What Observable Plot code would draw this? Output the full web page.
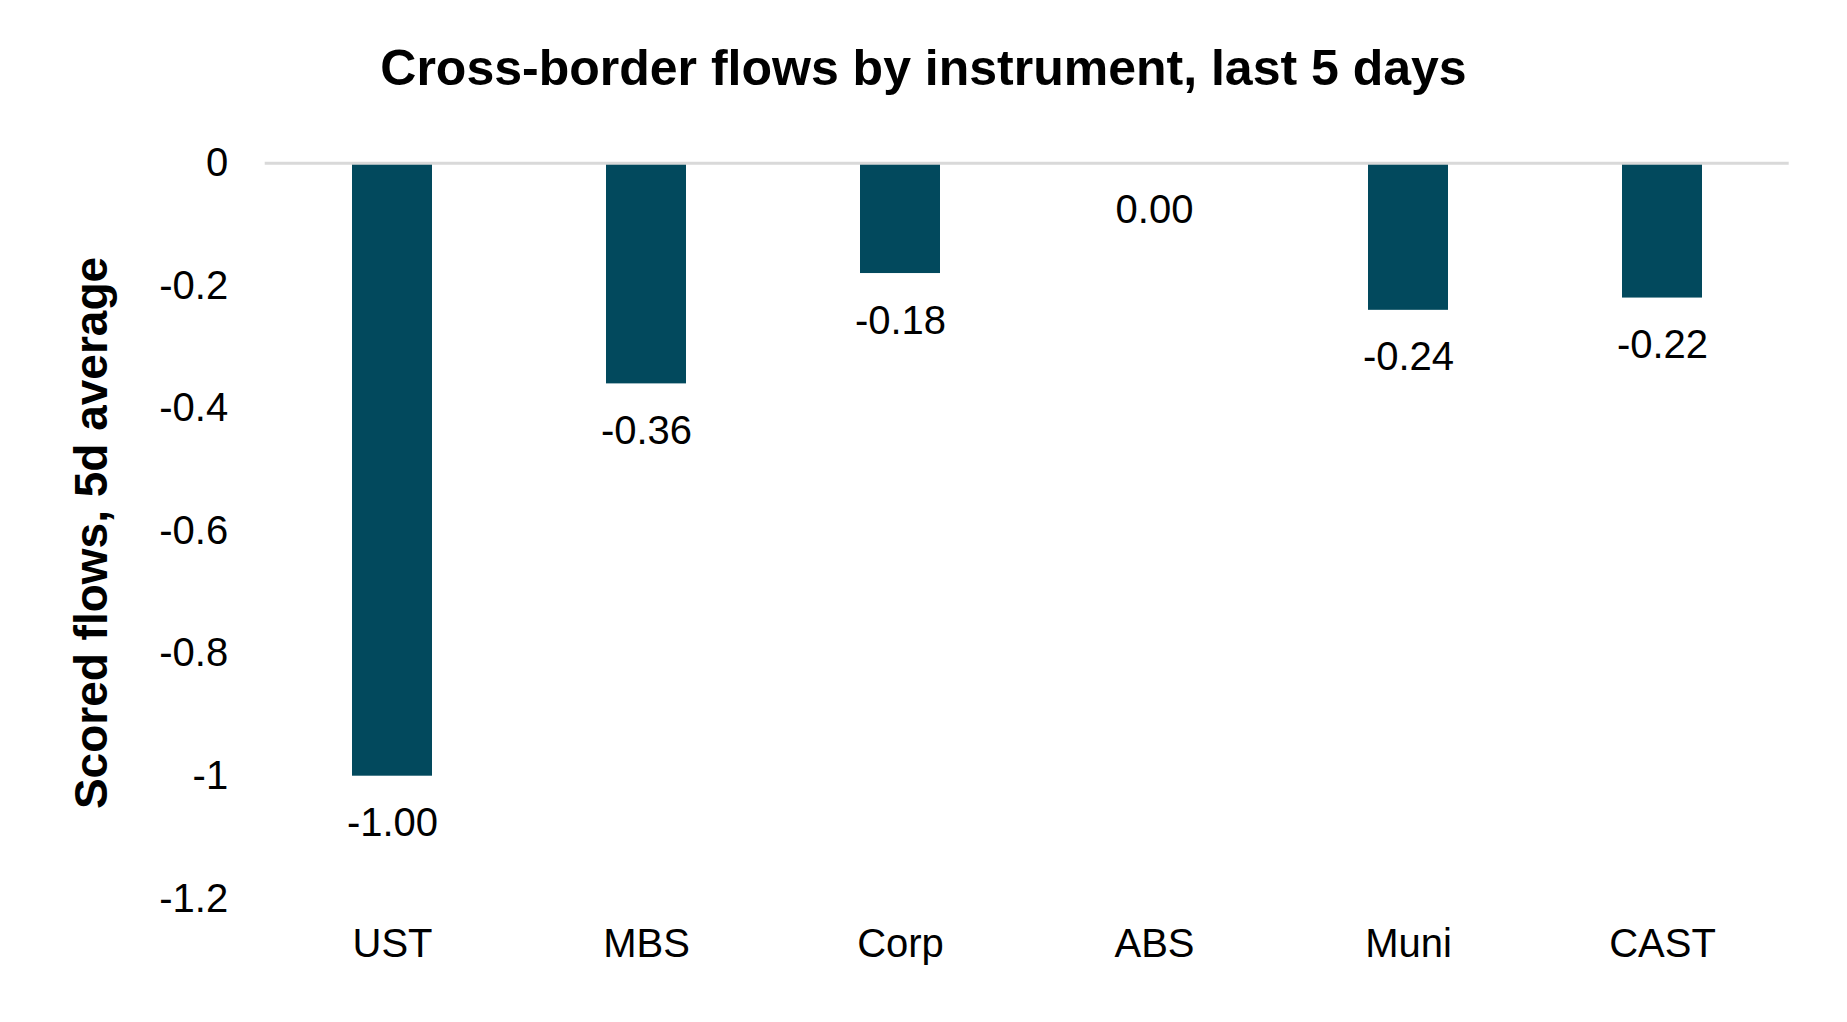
<!DOCTYPE html>
<html>
<head>
<meta charset="utf-8">
<script src="https://cdn.jsdelivr.net/npm/d3@7"></script>
<script src="https://cdn.jsdelivr.net/npm/@observablehq/plot@0.6"></script>
<style>
  html, body { margin: 0; padding: 0; background: #fff; overflow: hidden; }
  #title {
    width: 1847px; height: 67px; padding-top: 43px;
    font-family: "Liberation Sans", Arial, sans-serif;
    font-weight: bold; font-size: 50px; line-height: 50px;
    text-align: center; color: #000; box-sizing: content-box;
  }
  #chart svg { display: block; }
</style>
</head>
<body>
<div id="title">Cross-border flows by instrument, last 5 days</div>
<div id="chart"></div>
<script>
const categories = ["UST", "MBS", "Corp", "ABS", "Muni", "CAST"];
const values = [-1.00, -0.36, -0.18, 0.00, -0.24, -0.22];
const yTicks = [0, -0.2, -0.4, -0.6, -0.8, -1, -1.2];
const yLabel = "Scored flows, 5d average";

const data = categories.map((c, i) => ({category: c, value: values[i]}));

const W = 1847, H = 912;
const chart = Plot.plot({
  width: W,
  height: H,
  marginTop: 52.7,
  marginBottom: 123.7,
  marginLeft: 264.7,
  marginRight: 58.3,
  style: {fontFamily: "'Liberation Sans', Arial, sans-serif", fontSize: "40px", color: "#000", background: "#fff"},
  x: {domain: categories, paddingInner: 0.685, paddingOuter: 0.3425},
  y: {domain: [-1.2, 0]},
  marks: [
    Plot.barY(data, {x: "category", y: "value", fill: "#02495d"}),
    Plot.ruleY([0], {stroke: "#d9d9d9", strokeWidth: 3}),
    Plot.text(data, {x: "category", y: "value", text: d => d.value.toFixed(2), dy: 60, lineAnchor: "bottom", fontSize: 40, fill: "#000"}),
    Plot.axisX({tickSize: 0, tickPadding: 30, label: null, fontSize: 40}),
    Plot.axisY({ticks: yTicks, tickSize: 0, tickPadding: 37, label: null, fontSize: 40,
      tickFormat: d => String(Math.round(d * 10) / 10 || 0)}),
    Plot.text([yLabel], {frameAnchor: "left", textAnchor: "middle", lineAnchor: "middle", dx: -172.7, dy: 2, rotate: -90, fontWeight: "bold", fontSize: 46, fill: "#000"})
  ]
});
document.getElementById("chart").appendChild(chart);
</script>
</body>
</html>
